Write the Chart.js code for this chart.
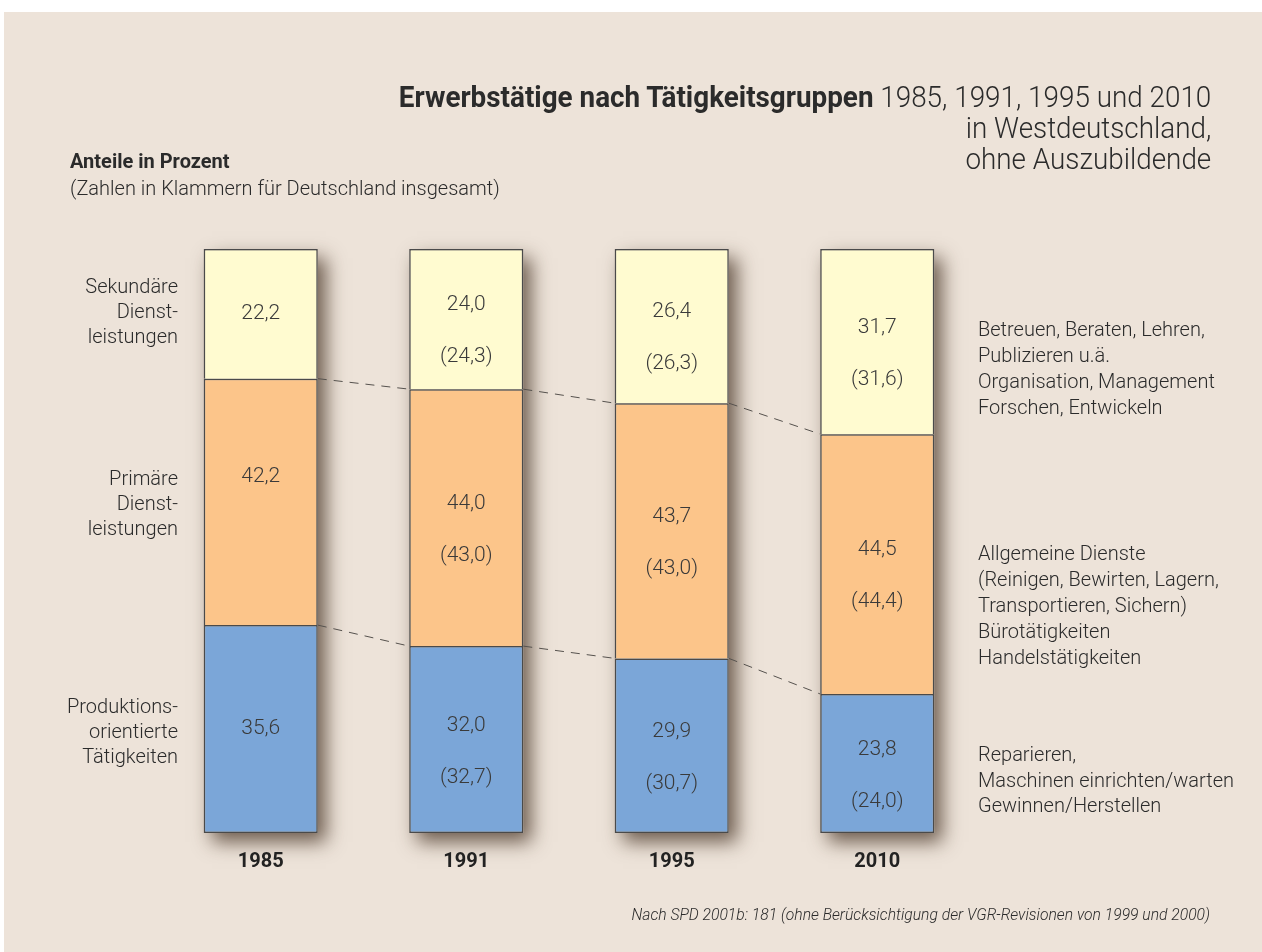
<!DOCTYPE html>
<html lang="de">
<head>
<meta charset="utf-8">
<title>Erwerbstätige nach Tätigkeitsgruppen</title>
<script src="https://cdn.jsdelivr.net/npm/chart.js@4.4.0/dist/chart.umd.min.js"></script>
<style>
  html, body { margin: 0; padding: 0; background: #fff; }
  body { width: 1262px; height: 952px; position: relative; overflow: hidden;
         font-family: Roboto, "Liberation Sans", sans-serif; font-weight: 300; color: #2b2b2b; }
  #panel { position: absolute; left: 4px; top: 12px; right: 0; bottom: 0; background: #ede3d9; }
  #chart { position: absolute; left: 0; top: 0; }
  .txt { position: absolute; white-space: nowrap; }
  b { font-weight: 700; }
  #title { right: 51px; top: 82px; font-size: 29px; line-height: 31px; text-align: right;
           transform: scaleX(0.96); transform-origin: right top; }
  #sub { left: 70px; top: 148px; font-size: 20px; line-height: 27px; }
  .left { left: 0; width: 178px; text-align: right; font-size: 20px; line-height: 25px; }
  .right { left: 978px; font-size: 20px; line-height: 26px; }
  #foot { right: 52px; top: 905px; font-size: 15.7px; line-height: 20px; font-style: italic; }
</style>
</head>
<body>
<div id="panel"></div>
<canvas id="chart" width="1262" height="952"></canvas>

<div class="txt" id="title"><b>Erwerbstätige nach Tätigkeitsgruppen</b> 1985, 1991, 1995 und 2010<br>in Westdeutschland,<br>ohne Auszubildende</div>
<div class="txt" id="sub"><b>Anteile in Prozent</b><br>(Zahlen in Klammern für Deutschland insgesamt)</div>

<div class="txt left" style="top:274px">Sekundäre<br>Dienst-<br>leistungen</div>
<div class="txt left" style="top:466px">Primäre<br>Dienst-<br>leistungen</div>
<div class="txt left" style="top:694px">Produktions-<br>orientierte<br>Tätigkeiten</div>

<div class="txt right" style="top:316px">Betreuen, Beraten, Lehren,<br>Publizieren u.ä.<br>Organisation, Management<br>Forschen, Entwickeln</div>
<div class="txt right" style="top:540px">Allgemeine Dienste<br>(Reinigen, Bewirten, Lagern,<br>Transportieren, Sichern)<br>Bürotätigkeiten<br>Handelstätigkeiten</div>
<div class="txt right" style="top:742px;line-height:25.5px">Reparieren,<br>Maschinen einrichten/warten<br>Gewinnen/Herstellen</div>

<div class="txt" id="foot">Nach SPD 2001b: 181 (ohne Berücksichtigung der VGR-Revisionen von 1999 und 2000)</div>

<script>
// Anteile in Prozent, Westdeutschland (in Klammern: Deutschland insgesamt)
var years = ['1985', '1991', '1995', '2010'];
var produktion = [35.6, 32.0, 29.9, 23.8];
var primaer = [42.2, 44.0, 43.7, 44.5];
var sekundaer = [22.2, 24.0, 26.4, 31.7];
var produktionGesamt = [null, 32.7, 30.7, 24.0];
var primaerGesamt = [null, 43.0, 43.0, 44.4];
var sekundaerGesamt = [null, 24.3, 26.3, 31.6];

var FONT = 'Roboto, "Liberation Sans", sans-serif';
var fmt = function (v) { return v.toFixed(1).replace('.', ','); };

// shadow behind each whole bar
var barShadow = {
    id: 'barShadow',
    beforeDatasetsDraw: function (chart) {
        var ctx = chart.ctx;
        var bottom = chart.getDatasetMeta(0).data;
        var top = chart.getDatasetMeta(2).data;
        ctx.save();
        ctx.shadowColor = 'rgba(55, 35, 20, 0.7)';
        ctx.shadowBlur = 18;
        ctx.shadowOffsetX = 8;
        ctx.shadowOffsetY = 9;
        ctx.fillStyle = '#c9bfb3';
        bottom.forEach(function (b, i) {
            var t = top[i];
            ctx.fillRect(b.x - b.width / 2, t.y, b.width, b.base - t.y);
        });
        ctx.restore();
    }
};

// dashed connectors, segment labels and year labels
var extras = {
    id: 'extras',
    afterDatasetsDraw: function (chart) {
        var ctx = chart.ctx;
        ctx.save();
        ctx.strokeStyle = '#55514d';
        ctx.lineWidth = 1;
        ctx.setLineDash([9, 7]);
        [0, 1].forEach(function (d) {
            var bars = chart.getDatasetMeta(d).data;
            for (var i = 0; i < bars.length - 1; i++) {
                var a = bars[i], b = bars[i + 1];
                ctx.beginPath();
                ctx.moveTo(a.x + a.width / 2, a.y);
                ctx.lineTo(b.x - b.width / 2, b.y);
                ctx.stroke();
            }
        });
        ctx.setLineDash([]);

        ctx.fillStyle = '#3a3a3a';
        ctx.textAlign = 'center';
        ctx.textBaseline = 'middle';
        ctx.font = '300 21px ' + FONT;
        chart.data.datasets.forEach(function (ds, d) {
            chart.getDatasetMeta(d).data.forEach(function (bar, i) {
                var mid = (bar.y + bar.base) / 2;
                var g = ds.gesamt[i];
                if (g === null) {
                    ctx.fillText(fmt(ds.data[i]), bar.x, d === 1 ? mid - 25 : mid);
                } else {
                    ctx.fillText(fmt(ds.data[i]), bar.x, mid - 14);
                    ctx.fillText('(' + fmt(g) + ')', bar.x, mid + 38);
                }
            });
        });

        ctx.fillStyle = '#222';
        ctx.font = 'bold 20px ' + FONT;
        var xs = chart.scales.x;
        years.forEach(function (y, i) {
            ctx.fillText(y, xs.getPixelForValue(i), chart.chartArea.bottom + 29);
        });
        ctx.restore();
    }
};

new Chart(document.getElementById('chart'), {
    type: 'bar',
    data: {
        labels: years,
        datasets: [
            { label: 'Produktionsorientierte Tätigkeiten', data: produktion, gesamt: produktionGesamt,
              backgroundColor: '#7ba6d8', borderSkipped: false },
            { label: 'Primäre Dienstleistungen', data: primaer, gesamt: primaerGesamt,
              backgroundColor: '#fcc58a', borderSkipped: 'start' },
            { label: 'Sekundäre Dienstleistungen', data: sekundaer, gesamt: sekundaerGesamt,
              backgroundColor: '#fffbd0', borderSkipped: 'start' }
        ]
    },
    options: {
        responsive: false,
        animation: false,
        layout: { padding: { left: 158, right: 282, top: 249, bottom: 119 } },
        datasets: { bar: { borderColor: '#4a4a4a', borderWidth: 1.5, categoryPercentage: 1, barPercentage: 0.555 } },
        plugins: { legend: { display: false }, tooltip: { enabled: false } },
        scales: {
            x: { stacked: true, display: false },
            y: { stacked: true, display: false, min: 0, max: 100 }
        }
    },
    plugins: [barShadow, extras]
});
</script>
</body>
</html>
